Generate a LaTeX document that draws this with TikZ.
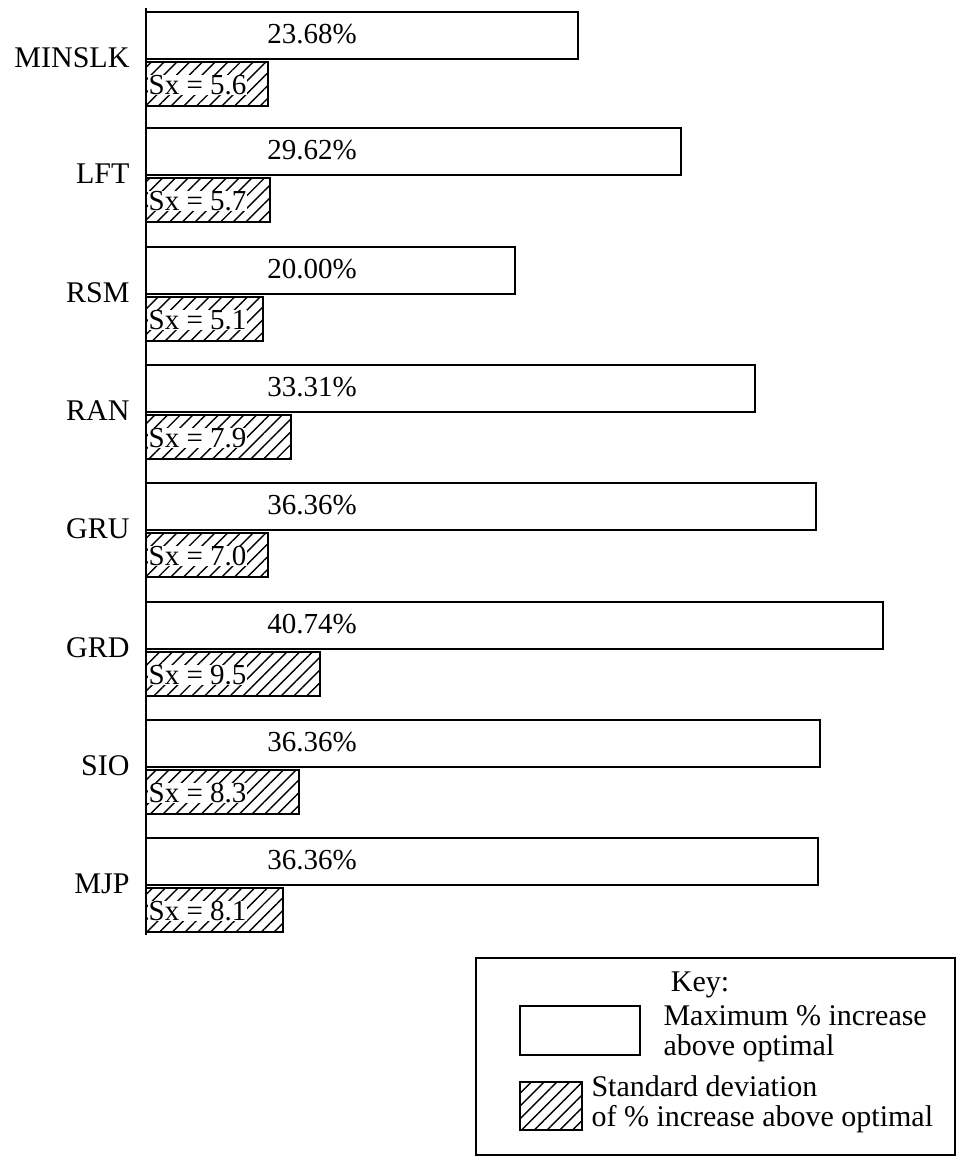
\documentclass[tikz,border=0pt]{standalone}
\usepackage{fontspec}
\setmainfont{Liberation Serif}
\usetikzlibrary{positioning,patterns.meta}
\tikzset{
  maxbar/.style={draw, line width=1.2pt, fill=white},
  sdbar/.style={draw, line width=1.2pt,
    pattern={Lines[angle=45,distance=9pt,line width=1.4pt]}},
  sdtext/.style={fill=white, inner sep=0.5pt, anchor=west, font=\fontsize{29}{32}\selectfont},
  pcttext/.style={font=\fontsize{29}{32}\selectfont},
  keytext/.style={font=\fontsize{30}{30}\selectfont},
  rowlab/.style={font=\fontsize{30}{32}\selectfont}
}
\begin{document}
\begin{tikzpicture}[x=1pt,y=-1pt]
\useasboundingbox (0,0) rectangle (969,1168);
\draw[line width=1.2pt] (146,8) -- (146,935);
\foreach \name/\top/\pend/\pct/\send/\sd [count=\k] in
  {MINSLK/12/578/23.68/268/5.6, LFT/128/681/29.62/270/5.7,
   RSM/247/515/20.00/263/5.1, RAN/365/755/33.31/291/7.9,
   GRU/483/816/36.36/268/7.0, GRD/602/883/40.74/320/9.5,
   SIO/720/820/36.36/299/8.3, MJP/838/818/36.36/283/8.1}{
  \draw[maxbar] (146,\top) rectangle (\pend,\top+47);
  \draw[sdbar] (146,\top+50) rectangle (\send,\top+94);
  \node[pcttext] (pct\k) at (312,\top+22) {\pct\%};
  \node[sdtext] (sd\k) at (148,\top+73) {Sx = \sd};
  \node[rowlab, anchor=east] (lab\k) at (133,\top+46) {\name};
}
% key
\draw[line width=2pt] (476,958) rectangle (955,1155);
\node[keytext] (key) at (700,985) {Key:};
\draw[maxbar] (520,1006) rectangle (640,1055);
\node[keytext, align=left, anchor=north west] (keymax) at (660,1002)
  {Maximum \% increase\\above optimal};
\draw[sdbar] (520,1082) rectangle (582,1130);
\node[keytext, align=left, anchor=north west] (keysd) at (588,1072)
  {Standard deviation\\of \% increase above optimal};
\end{tikzpicture}
\end{document}
